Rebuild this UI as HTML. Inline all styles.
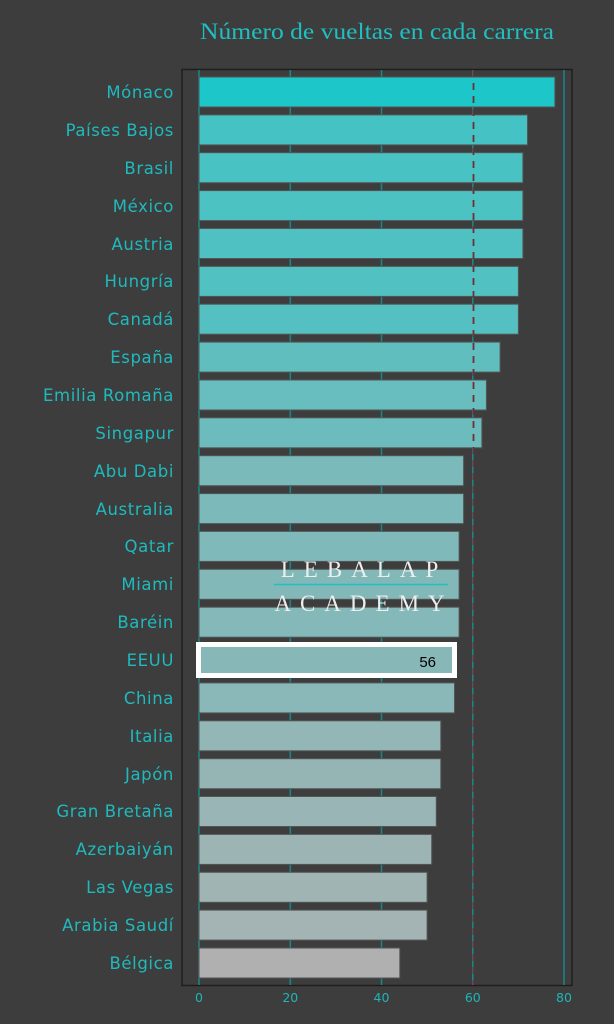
<!DOCTYPE html>
<html><head><meta charset="utf-8"><style>
html,body{margin:0;padding:0;background:#3d3d3d;}
svg{display:block}
.l{font-family:"DejaVu Sans","Liberation Sans",sans-serif;font-size:16.5px;fill:#1fbabd;text-anchor:end;letter-spacing:0.6px}
.t{font-family:"DejaVu Sans","Liberation Sans",sans-serif;font-size:12.5px;fill:#1fb5b8;text-anchor:middle}
</style></head><body>
<svg width="614" height="1024" viewBox="0 0 614 1024" xmlns="http://www.w3.org/2000/svg">
<rect width="614" height="1024" fill="#3d3d3d"/>
<text x="200" y="39" font-family="'Liberation Serif',serif" font-size="23" fill="#1fbfc2" textLength="354" lengthAdjust="spacingAndGlyphs">Número de vueltas en cada carrera</text>
<rect x="182" y="69.5" width="390" height="916" fill="none" stroke="#1e1e1e" stroke-width="1.5"/>
<g stroke="#1a8486" stroke-width="1.6">
<line x1="199" y1="70" x2="199" y2="985"/><line x1="290.3" y1="70" x2="290.3" y2="985"/><line x1="381.5" y1="70" x2="381.5" y2="985"/><line x1="472.8" y1="70" x2="472.8" y2="985"/><line x1="564" y1="70" x2="564" y2="985"/>
</g>
<g stroke="#555" stroke-width="1">
<rect x="199" y="77" width="355.9" height="30" fill="#1cc6c9"/>
<rect x="199" y="114.9" width="328.5" height="30" fill="#45c3c4"/>
<rect x="199" y="152.7" width="323.9" height="30" fill="#49c2c3"/>
<rect x="199" y="190.6" width="323.9" height="30" fill="#4cc2c3"/>
<rect x="199" y="228.5" width="323.9" height="30" fill="#4fc1c2"/>
<rect x="199" y="266.4" width="319.4" height="30" fill="#52c1c2"/>
<rect x="199" y="304.2" width="319.4" height="30" fill="#55c0c1"/>
<rect x="199" y="342.1" width="301.1" height="30" fill="#60bebf"/>
<rect x="199" y="380" width="287.4" height="30" fill="#68bdbe"/>
<rect x="199" y="417.8" width="282.9" height="30" fill="#6cbcbd"/>
<rect x="199" y="455.7" width="264.6" height="30" fill="#7ababa"/>
<rect x="199" y="493.6" width="264.6" height="30" fill="#7cb9ba"/>
<rect x="199" y="531.4" width="260.1" height="30" fill="#80b9b9"/>
<rect x="199" y="569.3" width="260.1" height="30" fill="#83b8b9"/>
<rect x="199" y="607.2" width="260.1" height="30" fill="#85b8b8"/>
<rect x="199" y="645.1" width="255.5" height="30" fill="#88b7b8"/>
<rect x="199" y="682.9" width="255.5" height="30" fill="#8ab7b7"/>
<rect x="199" y="720.8" width="241.8" height="30" fill="#93b6b6"/>
<rect x="199" y="758.7" width="241.8" height="30" fill="#95b5b5"/>
<rect x="199" y="796.5" width="237.3" height="30" fill="#99b5b5"/>
<rect x="199" y="834.4" width="232.7" height="30" fill="#9db4b4"/>
<rect x="199" y="872.3" width="228.1" height="30" fill="#a1b4b4"/>
<rect x="199" y="910.1" width="228.1" height="30" fill="#a4b3b3"/>
<rect x="199" y="948" width="200.8" height="30" fill="#b0b0b0"/>
</g>
<line x1="473.5" y1="70" x2="473.5" y2="985" stroke="#6e3036" stroke-width="1.8" stroke-dasharray="7,6"/>
<rect x="198.5" y="644.5" width="256" height="31" fill="none" stroke="#fff" stroke-width="5"/>
<text x="436" y="667" font-family="'Liberation Sans',sans-serif" font-size="15" fill="#000" text-anchor="end">56</text>
<g font-family="'Liberation Serif',serif" font-size="23" fill="#eee" text-anchor="middle" letter-spacing="9">
<text x="364" y="577">LEBALAP</text>
<text x="364" y="611">ACADEMY</text>
</g>
<line x1="274" y1="584.5" x2="448" y2="584.5" stroke="#1fbfc2" stroke-width="1.5"/>
<g class="l">
<text x="174" y="98">Mónaco</text>
<text x="174" y="136">Países Bajos</text>
<text x="174" y="174">Brasil</text>
<text x="174" y="212">México</text>
<text x="174" y="250">Austria</text>
<text x="174" y="287">Hungría</text>
<text x="174" y="325">Canadá</text>
<text x="174" y="363">España</text>
<text x="174" y="401">Emilia Romaña</text>
<text x="174" y="439">Singapur</text>
<text x="174" y="477">Abu Dabi</text>
<text x="174" y="515">Australia</text>
<text x="174" y="552">Qatar</text>
<text x="174" y="590">Miami</text>
<text x="174" y="628">Baréin</text>
<text x="174" y="666">EEUU</text>
<text x="174" y="704">China</text>
<text x="174" y="742">Italia</text>
<text x="174" y="780">Japón</text>
<text x="174" y="817">Gran Bretaña</text>
<text x="174" y="855">Azerbaiyán</text>
<text x="174" y="893">Las Vegas</text>
<text x="174" y="931">Arabia Saudí</text>
<text x="174" y="969">Bélgica</text>
</g>
<g class="t">
<text x="199" y="1002">0</text><text x="290.3" y="1002">20</text><text x="381.5" y="1002">40</text><text x="472.8" y="1002">60</text><text x="564" y="1002">80</text>
</g>
</svg>
</body></html>
